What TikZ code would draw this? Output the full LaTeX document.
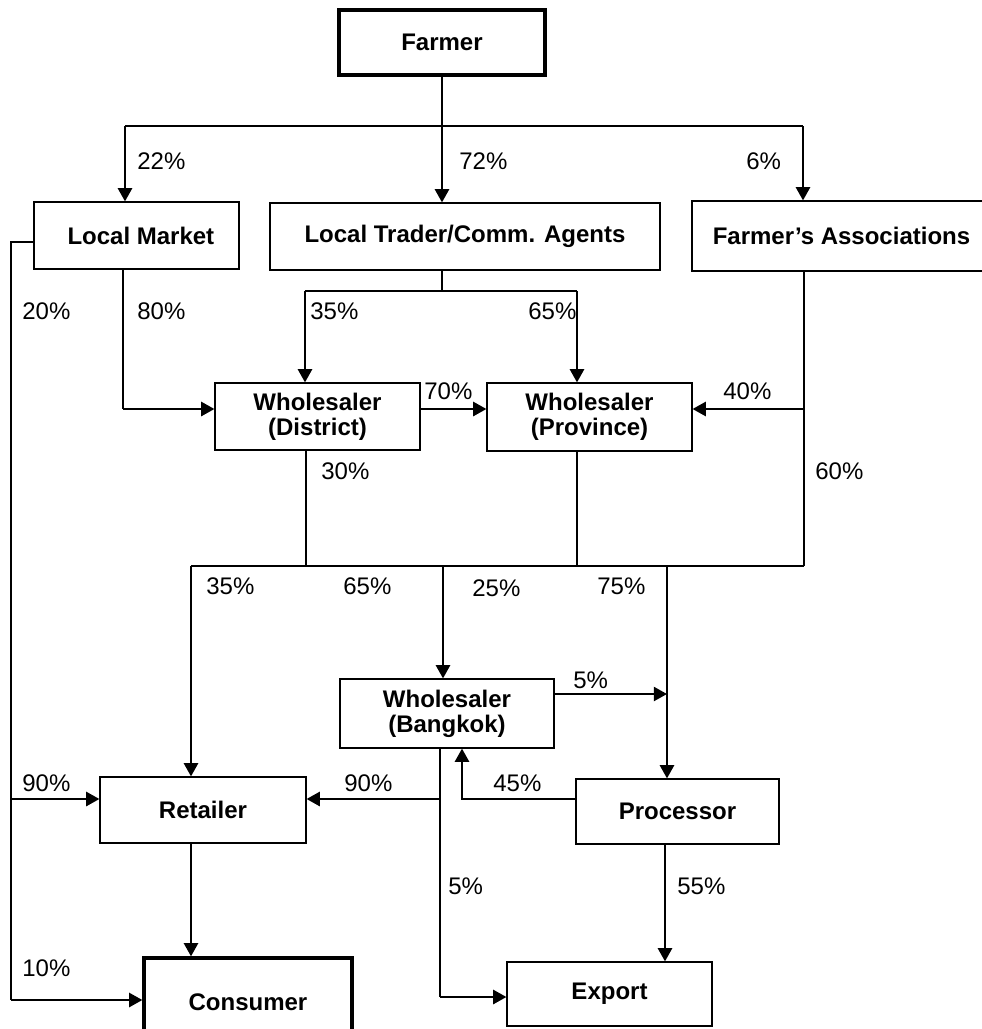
\documentclass[tikz,border=0pt]{standalone}
\usepackage{fontspec}
\setmainfont{Liberation Sans}
\usetikzlibrary{positioning,arrows.meta,calc}

\begin{document}
\begin{tikzpicture}[x=0.02cm,y=-0.02cm,
    every node/.style={font=\fontsize{13.66}{14.2}\selectfont},
    box/.style={draw,line width=0.7pt,align=center,inner sep=0pt,font=\fontsize{13.66}{14.2}\selectfont\bfseries},
    endbox/.style={box,line width=1.9pt},
    pct/.style={anchor=west,inner sep=0pt},
    link/.style={line width=0.75pt},
    flow/.style={line width=1.3pt,-{Triangle[length=7.5pt,width=8pt]}}
  ]
  \useasboundingbox (0,0) rectangle (982,1029);
  \clip (0,0) rectangle (982,1029);

  % the actors
  \node[endbox,minimum width=4.12cm,minimum height=1.30cm] (farmer) at (442,42.5) {Farmer};
  \node[box,minimum width=4.10cm,minimum height=1.34cm,text depth=-4pt] (lmarket) at (136.5,235.5) {\hspace*{5pt}Local Market};
  \node[box,minimum width=7.80cm,minimum height=1.34cm] (ltrader) at (465,236.5) {Local Trader/Comm. Agents};
  \node[box,minimum width=5.98cm,minimum height=1.40cm] (fassoc) at (841.5,236) {Farmer’s Associations};
  \node[box,minimum width=4.10cm,minimum height=1.34cm] (wdist) at (317.5,416.5) {Wholesaler\\(District)};
  \node[box,minimum width=4.10cm,minimum height=1.36cm] (wprov) at (589.5,417) {Wholesaler\\(Province)};
  \node[box,minimum width=4.28cm,minimum height=1.38cm] (wbkk) at (447,713.5) {Wholesaler\\(Bangkok)};
  \node[box,minimum width=4.06cm,minimum height=1.30cm] (proc) at (677.5,811.5) {Processor};
  \node[box,minimum width=4.12cm,minimum height=1.32cm] (retail) at (203,810) {Retailer};
  \node[endbox,minimum width=4.16cm,minimum height=1.76cm] (consumer) at (248,1002) {Consumer};
  \node[box,minimum width=4.10cm,minimum height=1.28cm] (export) at (609.5,994) {Export};

  % the branch points
  \coordinate (fL) at (125,126);
  \coordinate (fR) at (803,126);
  \coordinate (lmL) at (11,242);
  \coordinate (lmR) at (11,799);
  \coordinate (lmC) at (11,1000);
  \coordinate (lmD) at (123,409);
  \coordinate (ltD) at (442,291);
  \coordinate (ltL) at (305,291);
  \coordinate (ltR) at (577,291);
  \coordinate (faW) at (804,409);
  \coordinate (faD) at (804,566);
  \coordinate (wdD) at (306,566);
  \coordinate (wpD) at (577,566);
  \coordinate (sL) at (191,566);
  \coordinate (sM) at (443,566);
  \coordinate (sR) at (667,566);
  \coordinate (bkR) at (667,694);
  \coordinate (pcL) at (462,799);
  \coordinate (bkD) at (440,799);
  \coordinate (bkE) at (440,997);
  \coordinate (pcD) at (665,900);

  % from the farmer
  \draw[link] (fL) -- (fR);
  \draw[flow] (farmer.south) -- (farmer.south |- ltrader.north);
  \draw[flow] (fL) -- (fL |- lmarket.north);
  \draw[flow] (fR) -- (fR |- fassoc.north);

  % from the local market
  \draw[link] (lmarket.west |- lmL) -- (lmL) -- (lmC);
  \draw[flow] (lmR) -- (lmR -| retail.west);
  \draw[flow] (lmC) -- (lmC -| consumer.west);
  \draw[link] (lmD |- lmarket.south) -- (lmD);
  \draw[flow] (lmD) -- (lmD -| wdist.west);

  % from the local trader
  \draw[link] (ltD |- ltrader.south) -- (ltD);
  \draw[link] (ltL) -- (ltR);
  \draw[flow] (ltL) -- (ltL |- wdist.north);
  \draw[flow] (ltR) -- (ltR |- wprov.north);

  % the wholesalers
  \draw[flow] (wdist.east |- lmD) -- (wprov.west |- lmD);
  \draw[link] (faD |- fassoc.south) -- (faD);
  \draw[flow] (faW) -- (faW -| wprov.east);
  \draw[link] (sL) -- (faD);
  \draw[link] (wdD |- wdist.south) -- (wdD);
  \draw[link] (wpD |- wprov.south) -- (wpD);
  \draw[flow] (sL) -- (sL |- retail.north);
  \draw[flow] (sM) -- (sM |- wbkk.north);
  \draw[flow] (sR) -- (sR |- proc.north);

  % Bangkok and the processor
  \draw[flow] (bkR -| wbkk.east) -- (bkR);
  \draw[flow] (pcL -| proc.west) -- (pcL) -- (pcL |- wbkk.south);
  \draw[link] (bkD |- wbkk.south) -- (bkE);
  \draw[flow] (bkD) -- (bkD -| retail.east);
  \draw[flow] (bkE) -- (bkE -| export.west);
  \draw[flow] (sL |- retail.south) -- (sL |- consumer.north);
  \draw[flow] (pcD |- proc.south) -- (pcD |- export.north);

  % the shares
  \node[pct] (p22) at (137,161) {22\%};
  \node[pct] (p72) at (459,161) {72\%};
  \node[pct] (p6) at (746,161) {6\%};
  \node[pct] (p20) at (22,311) {20\%};
  \node[pct] (p80) at (137,311) {80\%};
  \node[pct] (p35a) at (310,311) {35\%};
  \node[pct] (p65a) at (528,311) {65\%};
  \node[pct] (p70) at (424,391.5) {70\%};
  \node[pct] (p40) at (723,391.5) {40\%};
  \node[pct] (p30) at (321,471.5) {30\%};
  \node[pct] (p60) at (815,471.5) {60\%};
  \node[pct] (p35b) at (206,586.5) {35\%};
  \node[pct] (p65b) at (343,586.5) {65\%};
  \node[pct] (p25) at (472,588.5) {25\%};
  \node[pct] (p75) at (597,586.5) {75\%};
  \node[pct] (p5a) at (573,680) {5\%};
  \node[pct] (p90a) at (22,783.5) {90\%};
  \node[pct] (p90b) at (344,783.5) {90\%};
  \node[pct] (p45) at (493,783.5) {45\%};
  \node[pct] (p5b) at (448,886.5) {5\%};
  \node[pct] (p55) at (677,886.5) {55\%};
  \node[pct] (p10) at (22,968) {10\%};
\end{tikzpicture}
\end{document}
